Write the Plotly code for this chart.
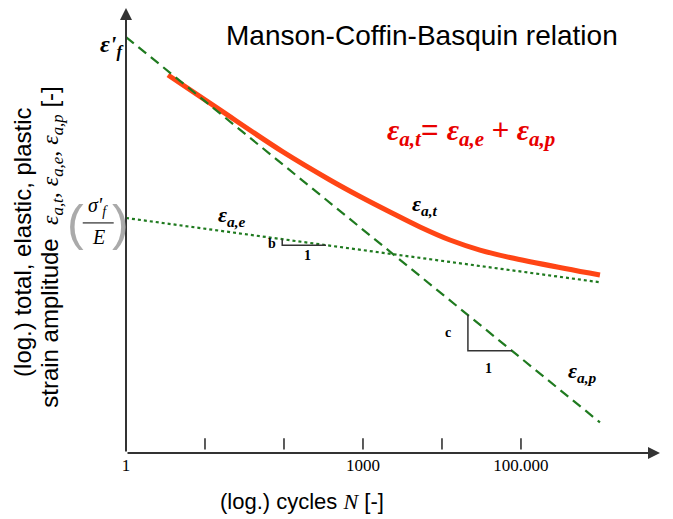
import plotly.graph_objects as go

# ---- data ----
N_line = [1, 1e6]
eps_plastic = [0.3, 7.5e-5]          # dashed: eps'_f * N^c
eps_elastic = [0.0061, 0.00153]      # dotted: sigma'_f/E * N^b

N_total = [3.4, 14.2, 97, 382, 916, 2198, 5270, 12620, 30270, 72600, 360600, 1e6]
eps_total = [0.1324, 0.0652, 0.0253, 0.01383, 0.00969, 0.00694, 0.00503,
             0.00380, 0.00306, 0.00261, 0.00206, 0.00179]

b_tri_N = [95, 95, 340]
b_tri_eps = [0.00387, 0.00340, 0.00340]
c_tri_N = [21300, 21300, 76900]
c_tri_eps = [7.6e-4, 3.5e-4, 3.5e-4]

tick_N = [10, 100, 1000, 1e4, 1e5]
label_N = [1, 1000, 100000]
label_text = ["1", "1000", "100.000"]

x_range = [0, 6.76]
y_range = [-4.411, -0.252]

GREEN = "#1f7a1f"
RED = "#ff4515"
AX = "#333333"
SERIF = "Liberation Serif, Times New Roman, serif"
SANS = "Liberation Sans, Arial, sans-serif"

fig = go.Figure()
fig.add_trace(go.Scatter(x=N_line, y=eps_elastic, mode="lines",
                         line=dict(color=GREEN, width=2.2, dash="dot"), hoverinfo="skip"))
fig.add_trace(go.Scatter(x=N_total, y=eps_total, mode="lines", line_shape="spline",
                         line=dict(color=RED, width=5, smoothing=1.0), hoverinfo="skip"))
fig.add_trace(go.Scatter(x=N_line, y=eps_plastic, mode="lines",
                         line=dict(color=GREEN, width=2.2, dash="10px,6px"), hoverinfo="skip"))
fig.add_trace(go.Scatter(x=b_tri_N, y=b_tri_eps, mode="lines",
                         line=dict(color=AX, width=1.5), hoverinfo="skip"))
fig.add_trace(go.Scatter(x=c_tri_N, y=c_tri_eps, mode="lines",
                         line=dict(color=AX, width=1.5), hoverinfo="skip"))
tick_y = 10 ** (y_range[0] + 0.085)
fig.add_trace(go.Scatter(x=tick_N, y=[tick_y] * len(tick_N), mode="markers",
                         marker=dict(symbol="line-ns-open", size=8, color=AX,
                                     line=dict(color=AX, width=1.6)),
                         hoverinfo="skip"))

ann = []
# axes with arrows
ann.append(dict(x=x_range[1], y=y_range[0], ax=x_range[0], ay=y_range[0],
                xref="x", yref="y", axref="x", ayref="y", showarrow=True,
                arrowhead=2, arrowsize=1.2, arrowwidth=2, arrowcolor=AX, text=""))
ann.append(dict(x=x_range[0], y=y_range[1], ax=x_range[0], ay=y_range[0],
                xref="x", yref="y", axref="x", ayref="y", showarrow=True,
                arrowhead=2, arrowsize=1.2, arrowwidth=2, arrowcolor=AX, text=""))


def txt(x, y, text, size, color="black", family=SANS, angle=0):
    ann.append(dict(x=x, y=y, xref="paper", yref="paper", text=text, showarrow=False,
                    font=dict(size=size, color=color, family=family),
                    textangle=angle, xanchor="center", yanchor="middle"))


txt(0.554, 0.939, "Manson-Coffin-Basquin relation", 28)
txt(-0.026, 0.915, "<b><i>ε'<sub>f</sub></i></b>", 24, family=SERIF)
# sigma'_f / E
txt(-0.052, 0.553, "<i>σ'<sub>f</sub></i>", 20, family=SERIF)
txt(-0.052, 0.485, "<i>E</i>", 20, family=SERIF)
txt(-0.094, 0.517, "(", 50, color="#aaaaaa")
txt(-0.011, 0.517, ")", 50, color="#aaaaaa")
# axis labels
txt(-0.195, 0.474, "(log.) total, elastic, plastic", 24, angle=-90)
txt(-0.139, 0.463,
    "strain amplitude  <span style='font-family:Liberation Serif'><i>ε<sub>a,t</sub></i>, "
    "<i>ε<sub>a,e</sub></i>, <i>ε<sub>a,p</sub></i></span> [-]", 24, angle=-90)
txt(0.330, -0.110, "(log.) cycles <span style='font-family:Liberation Serif'><i>N</i></span> [-]", 22)
# curve labels
txt(0.199, 0.533, "<b><i>ε<sub>a,e</sub></i></b>", 22, family=SERIF)
txt(0.560, 0.557, "<b><i>ε<sub>a,t</sub></i></b>", 22, family=SERIF)
txt(0.854, 0.182, "<b><i>ε<sub>a,p</sub></i></b>", 22, family=SERIF)
txt(0.646, 0.721,
    "<b><i>ε<sub>a,t</sub></i></b><span style='font-family:Liberation Sans'>= </span>"
    "<b><i>ε<sub>a,e</sub></i></b> <span style='font-family:Liberation Sans'>+</span> "
    "<b><i>ε<sub>a,p</sub></i></b>", 30, color="#e80000", family=SERIF)
# slope labels
txt(0.273, 0.470, "<b>b</b>", 14, family=SERIF)
txt(0.339, 0.443, "<b>1</b>", 14, family=SERIF)
txt(0.603, 0.270, "<b>c</b>", 14, family=SERIF)
txt(0.678, 0.191, "<b>1</b>", 14, family=SERIF)

fig.update_layout(
    width=673, height=519,
    margin=dict(l=126, r=13, t=8, b=66),
    paper_bgcolor="white", plot_bgcolor="white",
    showlegend=False,
    annotations=ann,
    shapes=[dict(type="line", xref="paper", yref="paper",
                 x0=-0.081, x1=-0.023, y0=0.517, y1=0.517,
                 line=dict(color="black", width=1))],
    xaxis=dict(type="log", range=x_range, showgrid=False, zeroline=False,
               showline=False, ticks="", tickmode="array", tickvals=label_N,
               ticktext=label_text, tickfont=dict(family=SERIF, size=17, color="black")),
    yaxis=dict(type="log", range=y_range, showgrid=False, zeroline=False,
               showline=False, ticks="", showticklabels=False),
)

fig.write_html("out.html")
